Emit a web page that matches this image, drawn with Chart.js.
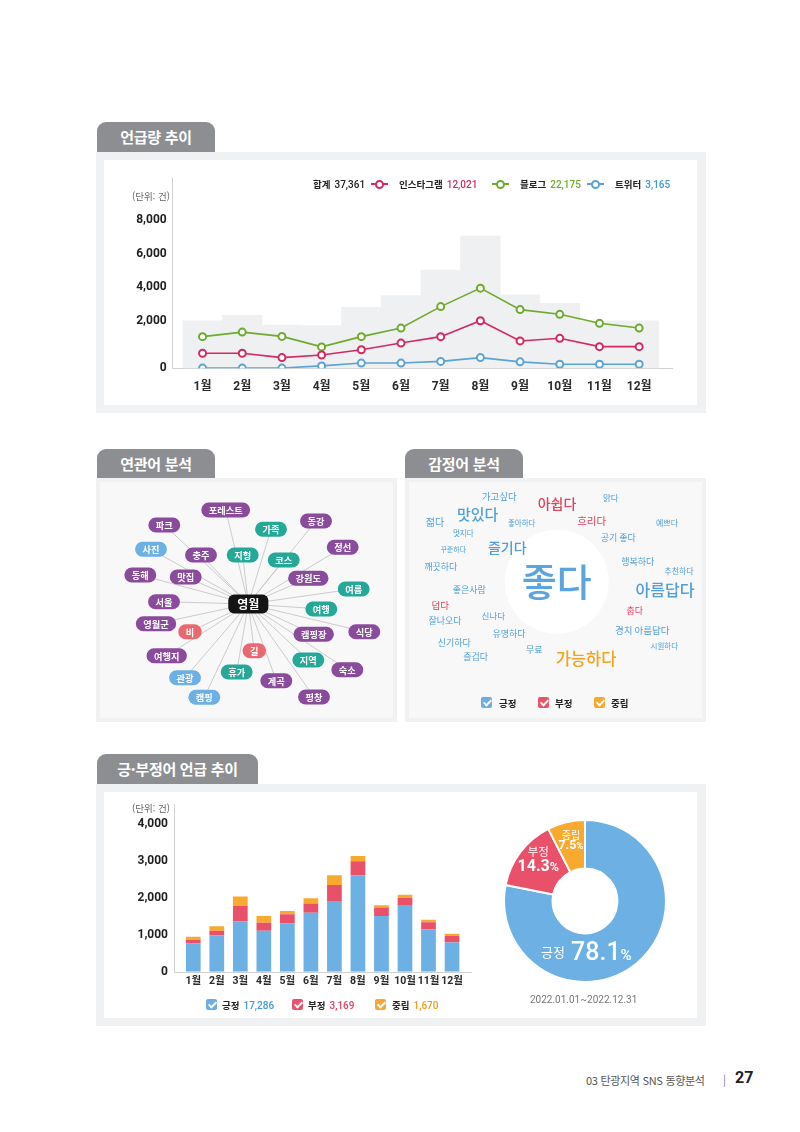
<!DOCTYPE html>
<html lang="ko">
<head>
<meta charset="utf-8">
<title>영월 SNS 분석</title>
<script src="https://cdn.jsdelivr.net/npm/chart.js@4.4.1/dist/chart.umd.min.js"></script>
<style>
*{box-sizing:border-box;}
html,body{margin:0;padding:0;background:#fff;}
body{font-family:'Noto Sans CJK KR','Noto Sans',sans-serif;color:#222;}
#page{position:relative;width:800px;height:1132px;overflow:hidden;background:#fff;}
.tab{position:absolute;height:30px;background:#8d8e91;color:#fff;font-weight:700;font-size:15px;line-height:30px;text-align:center;border-radius:9px 9px 0 0;letter-spacing:-0.3px;}
.panel{position:absolute;background:#f0f1f2;}
.inner{position:absolute;background:#fff;}
.inner.gray{background:#f8f8f9;}
.unit{position:absolute;font-size:9.5px;color:#666;text-align:right;white-space:nowrap;line-height:12px;}
.lg{position:absolute;font-size:9.5px;font-weight:700;white-space:nowrap;line-height:14px;color:#222;}
.num{font-family:Roboto,'Noto Sans CJK KR',sans-serif;font-weight:500;font-size:10px;margin-left:4px;}
.mk{position:absolute;width:17px;height:2px;}
.mk i{position:absolute;left:4px;top:-3.5px;width:9px;height:9px;border-radius:50%;background:#fff;border:2px solid;}
.cb{position:absolute;width:11px;height:11px;border-radius:2px;}
.cb::after{content:'';position:absolute;left:3.6px;top:1.2px;width:3px;height:6px;border:solid #fff;border-width:0 2px 2px 0;transform:rotate(45deg);}
canvas{position:absolute;}
.date{position:absolute;font-family:Roboto,'Noto Sans CJK KR',sans-serif;font-size:10px;color:#777;white-space:nowrap;}
.foot{position:absolute;white-space:nowrap;color:#555;}
</style>
</head>
<body>
<div id="page">

  <!-- 언급량 추이 -->
  <div class="tab" style="left:97px;top:122px;width:118px;">언급량 추이</div>
  <div class="panel" style="left:96px;top:152px;width:610px;height:261px;"></div>
  <div class="inner" style="left:104px;top:160px;width:593px;height:245px;"></div>
  <canvas id="lineChart" width="593" height="245" style="left:104px;top:160px;width:593px;height:245px;"></canvas>
  <div class="unit" style="left:100px;top:190px;width:70px;">(단위: 건)</div>

  <div class="lg" style="left:313px;top:177px;">합계<span class="num" style="color:#222;">37,361</span></div>
  <div class="mk" style="left:371px;top:183px;background:#d42a5f;"><i style="border-color:#d42a5f;"></i></div>
  <div class="lg" style="left:399px;top:177px;">인스타그램<span class="num" style="color:#d42a5f;">12,021</span></div>
  <div class="mk" style="left:492px;top:183px;background:#6dab2d;"><i style="border-color:#6dab2d;"></i></div>
  <div class="lg" style="left:520px;top:177px;">블로그<span class="num" style="color:#6dab2d;">22,175</span></div>
  <div class="mk" style="left:587px;top:183px;background:#5aa3d6;"><i style="border-color:#5aa3d6;"></i></div>
  <div class="lg" style="left:615px;top:177px;">트위터<span class="num" style="color:#3d9bd8;">3,165</span></div>

  <!-- 연관어 분석 -->
  <div class="tab" style="left:97px;top:449px;width:118px;height:29px;line-height:29px;">연관어 분석</div>
  <div class="panel" style="left:96px;top:478px;width:301px;height:244px;"></div>
  <div class="inner gray" style="left:100px;top:482px;width:293px;height:236px;"></div>
  <canvas id="networkChart" width="301" height="244" style="left:96px;top:478px;width:301px;height:244px;"></canvas>

  <!-- 감정어 분석 -->
  <div class="tab" style="left:405px;top:449px;width:118px;height:29px;line-height:29px;">감정어 분석</div>
  <div class="panel" style="left:405px;top:478px;width:301px;height:244px;"></div>
  <div class="inner gray" style="left:409px;top:482px;width:293px;height:236px;"></div>
  <canvas id="cloudChart" width="301" height="244" style="left:405px;top:478px;width:301px;height:244px;"></canvas>
  <div class="cb" style="left:481px;top:697px;background:#6aaee2;"></div>
  <div class="lg" style="left:499px;top:696px;">긍정</div>
  <div class="cb" style="left:538px;top:697px;background:#e8526a;"></div>
  <div class="lg" style="left:555px;top:696px;">부정</div>
  <div class="cb" style="left:594px;top:697px;background:#f7a833;"></div>
  <div class="lg" style="left:611px;top:696px;">중립</div>

  <!-- 긍·부정어 언급 추이 -->
  <div class="tab" style="left:97px;top:754px;width:161px;">긍·부정어 언급 추이</div>
  <div class="panel" style="left:96px;top:784px;width:610px;height:242px;"></div>
  <div class="inner" style="left:104px;top:792px;width:593px;height:226px;"></div>
  <canvas id="barChart" width="380" height="226" style="left:104px;top:792px;width:380px;height:226px;"></canvas>
  <div class="unit" style="left:100px;top:802px;width:70px;">(단위: 건)</div>
  <div class="cb" style="left:206px;top:999px;background:#6aaee2;"></div>
  <div class="lg" style="left:222px;top:998px;">긍정<span class="num" style="color:#3d9bd8;">17,286</span></div>
  <div class="cb" style="left:292px;top:999px;background:#e8526a;"></div>
  <div class="lg" style="left:308px;top:998px;">부정<span class="num" style="color:#e2405c;">3,169</span></div>
  <div class="cb" style="left:375px;top:999px;background:#f7a833;"></div>
  <div class="lg" style="left:392px;top:998px;">중립<span class="num" style="color:#f39a1a;">1,670</span></div>

  <canvas id="donutChart" width="164" height="164" style="left:503px;top:819px;width:164px;height:164px;"></canvas>
  <div class="date" style="left:530px;top:994px;width:107px;text-align:center;">2022.01.01~2022.12.31</div>

  <!-- footer -->
  <div class="foot" style="left:586px;top:1072px;font-size:11px;letter-spacing:-0.3px;">03 탄광지역 SNS 동향분석</div>
  <div class="foot" style="left:723px;top:1071px;font-size:11px;color:#777;">|</div>
  <div class="foot" style="left:735px;top:1068px;font-size:16px;font-weight:700;color:#222;font-family:Roboto,sans-serif;">27</div>
</div>

<script>
// ================= DATA =================
const MONTHS = ['1월','2월','3월','4월','5월','6월','7월','8월','9월','10월','11월','12월'];

// 언급량 추이 (단위: 건)
const TOTAL_MENTIONS = [1990, 2320, 1820, 1790, 2800, 3500, 5020, 7040, 3540, 3040, 1990, 1990];
const INSTAGRAM      = [630, 630, 450, 560, 780, 1060, 1330, 2000, 1150, 1260, 910, 910];
const BLOG           = [1330, 1520, 1340, 900, 1330, 1690, 2840, 3940, 2660, 2380, 1890, 1690];
const TWITTER        = [10, 10, 10, 100, 220, 220, 290, 450, 270, 170, 170, 170];
const MENTION_TICKS  = [0, 2000, 4000, 6000, 8000];

// 긍·부정어 언급 추이 (단위: 건)
const POSITIVE = [770, 980, 1360, 1110, 1310, 1600, 1920, 2620, 1510, 1790, 1150, 790];
const NEGATIVE = [90, 130, 430, 220, 250, 250, 430, 380, 230, 210, 190, 180];
const NEUTRAL  = [90, 120, 250, 180, 90, 140, 270, 140, 60, 90, 70, 60];
const SENTIMENT_TICKS = [0, 1000, 2000, 3000, 4000];

// 감성 비율 (%)
const SENTIMENT_LABELS = ['긍정', '부정', '중립'];
const SENTIMENT_SHARE  = [78.1, 14.3, 7.5];

// 연관어 네트워크 (중심어: 영월)
const NODE_WORDS = ['영월','포레스트','파크','가족','동강','사진','충주','지형','코스','정선','동해','맛집','강원도','여름','서울','여행','영월군','비','식당','캠핑장','여행지','길','지역','숙소','관광','휴가','계곡','캠핑','평창'];
const NODE_GROUP = ['center','place','place','people','place','media','place','nature','activity','place','place','food','place','activity','place','activity','place','weather','food','stay','place','weather','activity','stay','media','activity','place','media','place'];
const NODE_X = [152.3,129.7,68.3,175,220,55,105,146.7,187.7,246.7,44.3,89.7,212.3,257.7,68,225.3,60,94,268.3,217.7,70.7,158.3,212.3,251.3,89,140.7,180.3,108.3,218];
const NODE_Y = [126,32,47,51.3,43,71.3,77,77,82,69.3,97,99,100.3,111,123.7,131,145.7,153.7,153.7,156.3,177.7,172.7,182,191.7,199.7,194,202.7,219.3,219];

// 감정어 워드클라우드
const CLOUD_WORDS  = ['가고싶다','아쉽다','맑다','젊다','맛있다','좋아하다','흐리다','예쁘다','멋지다','공기 좋다','꾸준하다','즐기다','깨끗하다','행복하다','추천하다','좋다','좋은사람','아름답다','덥다','춥다','신나다','잘나오다','유명하다','경치 아름답다','신기하다','무료','시원하다','즐겁다','가능하다'];
const CLOUD_SENT   = ['긍정','부정','긍정','긍정','긍정','긍정','부정','긍정','긍정','긍정','긍정','긍정','긍정','긍정','긍정','긍정','긍정','긍정','부정','부정','긍정','긍정','긍정','긍정','긍정','긍정','긍정','긍정','중립'];
const CLOUD_WEIGHT = [9.5,14,8.5,10,15,7.5,10.5,8,7.5,9,7,14,9,9,8,38,9,16,9.5,9,8.5,9,9,9.5,9,9,7.5,9,16.5];
const CLOUD_X = [94.3,152,205.7,30,72.7,116.7,186.7,262,58.3,213.3,48.3,102.3,35.7,232.7,274,151.7,64.3,260,35.3,229.7,88.3,40,104,237.3,49.3,129.3,259.3,70.7,181];
const CLOUD_Y = [18.7,25.3,19.3,44.7,36.3,45.3,42.7,44.7,55.3,59.3,71.3,69.7,88.7,83.7,92.7,103.7,112,112,127,132.7,137.7,143,155.3,152.7,164.7,171.3,168,178.7,181];

// ================= STYLE =================
const KR = "'Noto Sans CJK KR', sans-serif";
const NUMFONT = "Roboto, 'Noto Sans CJK KR', sans-serif";
Chart.defaults.font.family = NUMFONT;
Chart.defaults.animation = false;
Chart.defaults.plugins.legend.display = false;
Chart.defaults.plugins.tooltip.enabled = false;
Chart.defaults.devicePixelRatio = 1;

const COL = {
  insta: '#d42a5f', blog: '#6dab2d', twit: '#5aa3d6', total: '#eff0f1',
  pos: '#6cb0e4', neg: '#e9516a', neu: '#f8aa2e', axis: '#cfd0d2'
};
const SENT_COLOR = {'긍정': '#4f9fdb', '부정': '#e2405c', '중립': '#f5a21c'};
const GROUP_COLOR = {center:'#141414', place:'#8a4b9c', food:'#8a4b9c', stay:'#8a4b9c',
  people:'#26a898', nature:'#26a898', activity:'#26a898', media:'#6cb0e4', weather:'#ea6870'};

// ============ custom broken linear scale (0~2000 band is stretched, like the original) ============
const BaseLinear = Chart.LinearScale || Chart.registry.getScale('linear');
const BREAK_AT = 2000, LOWER_SHARE = 0.321;
class BrokenLinearScale extends BaseLinear {
  getPixelForValue(value) {
    if (value === null || value === undefined || isNaN(value)) return NaN;
    const top = this.max;
    const d = value <= BREAK_AT
      ? (value - this.min) / (BREAK_AT - this.min) * LOWER_SHARE
      : LOWER_SHARE + (value - BREAK_AT) / (top - BREAK_AT) * (1 - LOWER_SHARE);
    return this.getPixelForDecimal(d);
  }
  getValueForPixel(pixel) {
    const d = this.getDecimalForPixel(pixel);
    return d <= LOWER_SHARE ? this.min + d / LOWER_SHARE * (BREAK_AT - this.min)
      : BREAK_AT + (d - LOWER_SHARE) / (1 - LOWER_SHARE) * (this.max - BREAK_AT);
  }
}
BrokenLinearScale.id = 'brokenLinear';
BrokenLinearScale.defaults = BaseLinear.defaults;
Chart.register(BrokenLinearScale);

function fmt(v){ return Number(v).toLocaleString('en-US'); }

// plugin: axis lines that overshoot the plot area a little
function axisLinesPlugin(leftGap, rightGap, topY) {
  return {
    id: 'axisLines',
    beforeDatasetsDraw(chart) {
      const {ctx, chartArea: a} = chart;
      const x0 = Math.round(a.left - leftGap) + 0.5;
      const yb = Math.round(chart.scales.y.getPixelForValue(0)) + 0.5;
      ctx.save();
      ctx.strokeStyle = COL.axis; ctx.lineWidth = 1;
      ctx.beginPath();
      ctx.moveTo(x0, topY); ctx.lineTo(x0, yb);
      ctx.lineTo(a.right + rightGap, yb);
      ctx.stroke();
      ctx.restore();
    }
  };
}

// ================= 1. 언급량 추이 =================
new Chart(document.getElementById('lineChart'), {
  type: 'bar',
  data: {
    labels: MONTHS,
    datasets: [
      { type: 'line', label: '인스타그램', data: INSTAGRAM, borderColor: COL.insta, order: 1,
        borderWidth: 1.6, pointRadius: 3.5, pointBorderWidth: 2, pointBackgroundColor: '#fff', pointBorderColor: COL.insta },
      { type: 'line', label: '블로그', data: BLOG, borderColor: COL.blog, order: 1,
        borderWidth: 1.6, pointRadius: 3.5, pointBorderWidth: 2, pointBackgroundColor: '#fff', pointBorderColor: COL.blog },
      { type: 'line', label: '트위터', data: TWITTER, borderColor: COL.twit, order: 1,
        borderWidth: 1.6, pointRadius: 3.5, pointBorderWidth: 2, pointBackgroundColor: '#fff', pointBorderColor: COL.twit },
      { type: 'bar', label: '합계', data: TOTAL_MENTIONS, backgroundColor: COL.total, order: 5,
        barPercentage: 1, categoryPercentage: 1, borderWidth: 0 }
    ]
  },
  options: {
    responsive: false,
    layout: { padding: { top: 60, right: 38, left: 0, bottom: 0 } },
    scales: {
      x: {
        type: 'category', offset: true,
        grid: { display: false, drawTicks: false }, border: { display: false },
        ticks: { padding: 11, color: '#2a2a2a', maxRotation: 0, minRotation: 0, autoSkip: false,
          font: { size: 12, weight: 'bold', family: NUMFONT } },
        afterFit(s) { s.height = 36.7; }
      },
      y: {
        type: 'brokenLinear', min: MENTION_TICKS[0], max: MENTION_TICKS[MENTION_TICKS.length - 1],
        afterBuildTicks(s) { s.ticks = MENTION_TICKS.map(v => ({ value: v })); },
        grid: { display: false, drawTicks: false }, border: { display: false },
        ticks: { padding: 16, color: '#1e1e1e', font: { size: 12, weight: 'bold', family: NUMFONT }, callback: v => fmt(v) },
        afterFit(s) { s.width = 78.7; }
      }
    }
  },
  plugins: [axisLinesPlugin(10.5, 14, 18)]
});

// ================= 2. 연관어 네트워크 =================
function roundRectPath(ctx, x, y, w, h, r) {
  ctx.beginPath();
  ctx.moveTo(x + r, y);
  ctx.lineTo(x + w - r, y); ctx.arc(x + w - r, y + r, r, -Math.PI / 2, 0);
  ctx.lineTo(x + w, y + h - r); ctx.arc(x + w - r, y + h - r, r, 0, Math.PI / 2);
  ctx.lineTo(x + r, y + h); ctx.arc(x + r, y + h - r, r, Math.PI / 2, Math.PI);
  ctx.lineTo(x, y + r); ctx.arc(x + r, y + r, r, Math.PI, Math.PI * 1.5);
  ctx.closePath();
}
const networkPlugin = {
  id: 'network',
  beforeDatasetsDraw(chart) {
    const ctx = chart.ctx, pts = chart.getDatasetMeta(0).data, c = pts[0];
    ctx.save();
    ctx.strokeStyle = '#c6c6c8'; ctx.lineWidth = 0.9;
    pts.forEach((p, i) => { if (i === 0) return; ctx.beginPath(); ctx.moveTo(c.x, c.y); ctx.lineTo(p.x, p.y); ctx.stroke(); });
    ctx.restore();
  },
  afterDatasetsDraw(chart) {
    const ctx = chart.ctx, pts = chart.getDatasetMeta(0).data;
    ctx.save();
    ctx.textAlign = 'center'; ctx.textBaseline = 'middle';
    pts.forEach((p, i) => {
      const center = NODE_GROUP[i] === 'center';
      const fs = center ? 12 : 9.2;
      ctx.font = `700 ${fs}px ${KR}`;
      const tw = ctx.measureText(NODE_WORDS[i]).width;
      const w = center ? tw + 18 : tw + 15, h = center ? 19 : 15;
      ctx.fillStyle = GROUP_COLOR[NODE_GROUP[i]];
      roundRectPath(ctx, p.x - w / 2, p.y - h / 2, w, h, center ? 6 : h / 2);
      ctx.fill();
      ctx.fillStyle = '#fff';
      ctx.fillText(NODE_WORDS[i], p.x, p.y + 0.5);
    });
    ctx.restore();
  }
};
new Chart(document.getElementById('networkChart'), {
  type: 'scatter',
  data: { datasets: [{ data: NODE_WORDS.map((w, i) => ({ x: NODE_X[i], y: NODE_Y[i] })), pointRadius: 0 }] },
  options: {
    responsive: false, layout: { padding: 0 },
    scales: {
      x: { type: 'linear', min: 0, max: 301, display: false },
      y: { type: 'linear', min: 0, max: 244, reverse: true, display: false }
    }
  },
  plugins: [networkPlugin]
});

// ================= 3. 감정어 워드클라우드 =================
const cloudPlugin = {
  id: 'cloud',
  beforeDatasetsDraw(chart) {
    const ctx = chart.ctx, pts = chart.getDatasetMeta(0).data;
    const big = CLOUD_WEIGHT.indexOf(Math.max(...CLOUD_WEIGHT));
    ctx.save();
    ctx.fillStyle = '#ffffff';
    ctx.beginPath(); ctx.arc(pts[big].x, pts[big].y, 52, 0, Math.PI * 2); ctx.fill();
    ctx.restore();
  },
  afterDatasetsDraw(chart) {
    const ctx = chart.ctx, pts = chart.getDatasetMeta(0).data;
    ctx.save();
    ctx.textAlign = 'center'; ctx.textBaseline = 'middle';
    pts.forEach((p, i) => {
      const fs = CLOUD_WEIGHT[i];
      const wt = fs >= 12 ? 500 : 400;
      ctx.font = `${wt} ${fs}px ${KR}`;
      ctx.fillStyle = CLOUD_SENT[i] === '긍정' && fs > 30 ? '#5aa5df' : SENT_COLOR[CLOUD_SENT[i]];
      ctx.fillText(CLOUD_WORDS[i], p.x, p.y);
    });
    ctx.restore();
  }
};
new Chart(document.getElementById('cloudChart'), {
  type: 'scatter',
  data: { datasets: [{ data: CLOUD_WORDS.map((w, i) => ({ x: CLOUD_X[i], y: CLOUD_Y[i] })), pointRadius: 0 }] },
  options: {
    responsive: false, layout: { padding: 0 },
    scales: {
      x: { type: 'linear', min: 0, max: 301, display: false },
      y: { type: 'linear', min: 0, max: 244, reverse: true, display: false }
    }
  },
  plugins: [cloudPlugin]
});

// ================= 4. 긍·부정어 언급 추이 =================
new Chart(document.getElementById('barChart'), {
  type: 'bar',
  data: {
    labels: MONTHS,
    datasets: [
      { label: '긍정', data: POSITIVE, backgroundColor: COL.pos },
      { label: '부정', data: NEGATIVE, backgroundColor: COL.neg },
      { label: '중립', data: NEUTRAL, backgroundColor: COL.neu }
    ]
  },
  options: {
    responsive: false,
    datasets: { bar: { barPercentage: 0.625, categoryPercentage: 1, borderWidth: 0 } },
    layout: { padding: { top: 32.3, right: 20.2, left: 0, bottom: 0 } },
    scales: {
      x: {
        stacked: true, offset: true,
        grid: { display: false, drawTicks: false }, border: { display: false },
        ticks: { padding: 3, color: '#2a2a2a', maxRotation: 0, minRotation: 0, autoSkip: false,
          font: { size: 10.5, weight: 'bold', family: NUMFONT } },
        afterFit(s) { s.height = 46.3; }
      },
      y: {
        stacked: true, min: SENTIMENT_TICKS[0], max: SENTIMENT_TICKS[SENTIMENT_TICKS.length - 1],
        afterBuildTicks(s) { s.ticks = SENTIMENT_TICKS.map(v => ({ value: v })); },
        grid: { display: false, drawTicks: false }, border: { display: false },
        ticks: { padding: 13.5, color: '#1e1e1e', font: { size: 12, weight: 'bold', family: NUMFONT }, callback: v => fmt(v) },
        afterFit(s) { s.width = 77.5; }
      }
    }
  },
  plugins: [axisLinesPlugin(7.5, 8, 12)]
});

// ================= 5. 감성 비율 도넛 =================
const donutLabels = {
  id: 'donutLabels',
  afterDatasetsDraw(chart) {
    const ctx = chart.ctx, arcs = chart.getDatasetMeta(0).data;
    ctx.save();
    ctx.fillStyle = '#fff'; ctx.textBaseline = 'middle';
    arcs.forEach((arc, i) => {
      const {x, y, startAngle, endAngle, outerRadius} = arc.getProps(['x','y','startAngle','endAngle','outerRadius'], true);
      const share = SENTIMENT_SHARE[i];
      if (i === 0) {
        // big slice: label along the bottom of the ring
        const ang = -Math.PI / 2 + (185 / 180) * Math.PI, r = outerRadius * 0.655;
        const cx = x + Math.cos(ang) * r + 6, cy = y + Math.sin(ang) * r;
        const f1 = `400 13px ${KR}`, f2 = `500 25px ${NUMFONT}`, f3 = `500 15px ${NUMFONT}`;
        ctx.font = f1; const w1 = ctx.measureText(SENTIMENT_LABELS[i]).width;
        ctx.font = f2; const num = share.toFixed(1); const w2 = ctx.measureText(num).width;
        ctx.font = f3; const w3 = ctx.measureText('%').width;
        const gap = 6, total = w1 + gap + w2 + w3;
        let sx = cx - total / 2;
        ctx.textAlign = 'left';
        ctx.font = f1; ctx.fillText(SENTIMENT_LABELS[i], sx, cy - 2); sx += w1 + gap;
        ctx.font = f2; ctx.fillText(num, sx, cy); sx += w2;
        ctx.font = f3; ctx.fillText('%', sx, cy + 2);
      } else {
        const mid = (startAngle + endAngle) / 2;
        const r = outerRadius * (i === 1 ? 0.74 : 0.74);
        const cx = x + Math.cos(mid) * r + (i === 1 ? 1 : 0), cy = y + Math.sin(mid) * r;
        const big = i === 1 ? 16 : 12.5, small = i === 1 ? 11.5 : 10;
        ctx.textAlign = 'center';
        ctx.font = `400 ${small}px ${KR}`;
        ctx.fillText(SENTIMENT_LABELS[i], cx, cy - (i === 1 ? 13 : 8));
        const num = share.toFixed(1);
        ctx.font = `700 ${big}px ${NUMFONT}`; const wn = ctx.measureText(num).width;
        ctx.font = `700 ${big * 0.78}px ${NUMFONT}`; const wp = ctx.measureText('%').width;
        let sx = cx - (wn + wp) / 2;
        ctx.textAlign = 'left';
        ctx.font = `700 ${big}px ${NUMFONT}`; ctx.fillText(num, sx, cy + (i === 1 ? 2 : 3));
        ctx.font = `700 ${big * 0.78}px ${NUMFONT}`; ctx.fillText('%', sx + wn, cy + (i === 1 ? 3 : 4));
      }
    });
    ctx.restore();
  }
};
new Chart(document.getElementById('donutChart'), {
  type: 'doughnut',
  data: {
    labels: SENTIMENT_LABELS,
    datasets: [{ data: SENTIMENT_SHARE, backgroundColor: [COL.pos, COL.neg, COL.neu], borderColor: '#fff', borderWidth: 2 }]
  },
  options: { responsive: false, cutout: '40%', layout: { padding: 0 } },
  plugins: [donutLabels]
});
</script>
</body>
</html>
